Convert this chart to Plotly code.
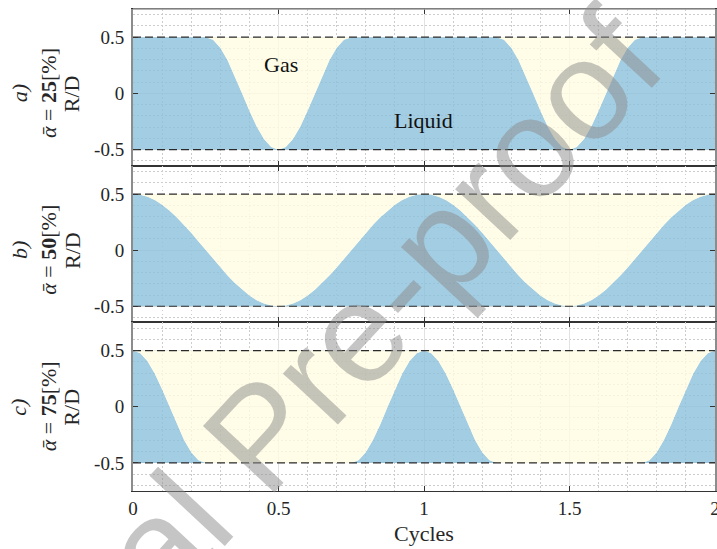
import plotly.graph_objects as go
from plotly.subplots import make_subplots

# Time axis, in cycles
cycles = [
    0.0, 0.025, 0.05, 0.075, 0.1, 0.125, 0.15, 0.175, 0.2, 0.225,
    0.25, 0.275, 0.3, 0.325, 0.35, 0.375, 0.4, 0.425, 0.45, 0.475,
    0.5, 0.525, 0.55, 0.575, 0.6, 0.625, 0.65, 0.675, 0.7, 0.725,
    0.75, 0.775, 0.8, 0.825, 0.85, 0.875, 0.9, 0.925, 0.95, 0.975,
    1.0, 1.025, 1.05, 1.075, 1.1, 1.125, 1.15, 1.175, 1.2, 1.225,
    1.25, 1.275, 1.3, 1.325, 1.35, 1.375, 1.4, 1.425, 1.45, 1.475,
    1.5, 1.525, 1.55, 1.575, 1.6, 1.625, 1.65, 1.675, 1.7, 1.725,
    1.75, 1.775, 1.8, 1.825, 1.85, 1.875, 1.9, 1.925, 1.95, 1.975,
    2.0,
]

# Gas/liquid interface height R/D for each mean void fraction
interface_25 = [
    0.5, 0.5, 0.5, 0.5, 0.5, 0.5, 0.5, 0.5, 0.5, 0.5,
    0.5, 0.476, 0.405, 0.294, 0.155, 0.0, -0.155, -0.294, -0.405, -0.476,
    -0.5, -0.476, -0.405, -0.294, -0.155, 0.0, 0.155, 0.294, 0.405, 0.476,
    0.5, 0.5, 0.5, 0.5, 0.5, 0.5, 0.5, 0.5, 0.5, 0.5,
    0.5, 0.5, 0.5, 0.5, 0.5, 0.5, 0.5, 0.5, 0.5, 0.5,
    0.5, 0.476, 0.405, 0.294, 0.155, 0.0, -0.155, -0.294, -0.405, -0.476,
    -0.5, -0.476, -0.405, -0.294, -0.155, 0.0, 0.155, 0.294, 0.405, 0.476,
    0.5, 0.5, 0.5, 0.5, 0.5, 0.5, 0.5, 0.5, 0.5, 0.5,
    0.5,
]
interface_50 = [
    0.5, 0.494, 0.476, 0.446, 0.405, 0.354, 0.294, 0.227, 0.155, 0.078,
    0.0, -0.078, -0.155, -0.227, -0.294, -0.354, -0.405, -0.446, -0.476, -0.494,
    -0.5, -0.494, -0.476, -0.446, -0.405, -0.354, -0.294, -0.227, -0.155, -0.078,
    0.0, 0.078, 0.155, 0.227, 0.294, 0.354, 0.405, 0.446, 0.476, 0.494,
    0.5, 0.494, 0.476, 0.446, 0.405, 0.354, 0.294, 0.227, 0.155, 0.078,
    0.0, -0.078, -0.155, -0.227, -0.294, -0.354, -0.405, -0.446, -0.476, -0.494,
    -0.5, -0.494, -0.476, -0.446, -0.405, -0.354, -0.294, -0.227, -0.155, -0.078,
    0.0, 0.078, 0.155, 0.227, 0.294, 0.354, 0.405, 0.446, 0.476, 0.494,
    0.5,
]
interface_75 = [
    0.5, 0.476, 0.405, 0.294, 0.155, 0.0, -0.155, -0.294, -0.405, -0.476,
    -0.5, -0.5, -0.5, -0.5, -0.5, -0.5, -0.5, -0.5, -0.5, -0.5,
    -0.5, -0.5, -0.5, -0.5, -0.5, -0.5, -0.5, -0.5, -0.5, -0.5,
    -0.5, -0.476, -0.405, -0.294, -0.155, 0.0, 0.155, 0.294, 0.405, 0.476,
    0.5, 0.476, 0.405, 0.294, 0.155, 0.0, -0.155, -0.294, -0.405, -0.476,
    -0.5, -0.5, -0.5, -0.5, -0.5, -0.5, -0.5, -0.5, -0.5, -0.5,
    -0.5, -0.5, -0.5, -0.5, -0.5, -0.5, -0.5, -0.5, -0.5, -0.5,
    -0.5, -0.476, -0.405, -0.294, -0.155, 0.0, 0.155, 0.294, 0.405, 0.476,
    0.5,
]

void_fractions = ["25", "50", "75"]
panel_letters = ["a)", "b)", "c)"]
interfaces = [interface_25, interface_50, interface_75]

pipe_top = 0.5
pipe_bottom = -0.5
x_ticks = [0, 0.5, 1, 1.5, 2]
x_ticktext = ["0", "0.5", "1", "1.5", "2"]
y_ticks = [-0.5, 0, 0.5]
y_ticktext = ["-0.5", "0", "0.5"]

LIQUID = "rgba(140,192,219,0.8)"
GAS = "rgba(255,252,225,0.8)"
SERIF = "Liberation Serif, DejaVu Serif, serif"
INK = "#262626"

fig = make_subplots(rows=3, cols=1, shared_xaxes=True, vertical_spacing=0)

for row, h in enumerate(interfaces, start=1):
    n = len(cycles)
    fig.add_trace(go.Scatter(x=cycles, y=[pipe_bottom] * n, mode="lines",
                             line=dict(width=0), hoverinfo="skip"), row=row, col=1)
    fig.add_trace(go.Scatter(x=cycles, y=h, mode="lines", line=dict(width=0),
                             fill="tonexty", fillcolor=LIQUID), row=row, col=1)
    fig.add_trace(go.Scatter(x=cycles, y=[pipe_top] * n, mode="lines",
                             line=dict(width=0), fill="tonexty", fillcolor=GAS,
                             hoverinfo="skip"), row=row, col=1)
    for wall in (pipe_top, pipe_bottom):
        fig.add_trace(go.Scatter(x=[cycles[0], cycles[-1]], y=[wall, wall],
                                 mode="lines",
                                 line=dict(color="#2a2a2a", width=1.2, dash="8px,4px"),
                                 hoverinfo="skip"), row=row, col=1)

# Panel extents: the two upper panels are cut off by the panel below them
y_ranges = [[-0.645, 0.75], [-0.645, 0.75], [-0.75, 0.75]]
y_domains = [[0.6743, 1.0], [0.3496, 0.6743], [0.0, 0.3496]]

for i in range(3):
    fig.update_xaxes(
        range=[0, 2], tickvals=x_ticks, ticktext=x_ticktext,
        showline=True, linecolor="#333333", linewidth=1, mirror="ticks",
        ticks="inside", ticklen=5, tickcolor="#333333",
        showgrid=True, gridcolor="#e2e2e2", gridwidth=1, zeroline=False,
        minor=dict(dtick=0.1, tick0=0, showgrid=True, gridcolor="#cdcdcd",
                   griddash="1.5px,2.5px", ticks=""),
        tickfont=dict(family=SERIF, size=19, color=INK),
        showticklabels=(i == 2), ticklabelstandoff=0,
        ticklabeloverflow="allow", automargin=False,
        row=i + 1, col=1,
    )
    fig.update_yaxes(
        range=y_ranges[i], domain=y_domains[i],
        tickvals=y_ticks, ticktext=y_ticktext,
        showline=True, linecolor="#8c8c8c", linewidth=2, mirror="ticks",
        ticks="inside", ticklen=5, tickcolor="#333333",
        showgrid=True, gridcolor="#e2e2e2", gridwidth=1, zeroline=False,
        minor=dict(dtick=0.1, tick0=0, showgrid=True, gridcolor="#cdcdcd",
                   griddash="1.5px,2.5px", ticks=""),
        tickfont=dict(family=SERIF, size=19, color=INK),
        ticklabelstandoff=3, automargin=False,
        row=i + 1, col=1,
    )

annotations = []
yrefs = ["y", "y2", "y3"]
for i in range(3):
    annotations.append(dict(
        text=f"<i>{panel_letters[i]}</i>", xref="paper", yref=yrefs[i],
        x=-0.196, y=0, xanchor="center", yanchor="middle",
        textangle=-90, showarrow=False,
        font=dict(family=SERIF, size=22, color=INK)))
    annotations.append(dict(
        text=f"<i>ᾱ</i> = <b>{void_fractions[i]}</b>[%]", xref="paper", yref=yrefs[i],
        x=-0.145, y=0, xanchor="center", yanchor="middle",
        textangle=-90, showarrow=False,
        font=dict(family=SERIF, size=22, color=INK)))
    annotations.append(dict(
        text="R/D", xref="paper", yref=yrefs[i],
        x=-0.105, y=0, xanchor="center", yanchor="middle",
        textangle=-90, showarrow=False,
        font=dict(family=SERIF, size=22, color=INK)))

annotations += [
    dict(text="Gas", xref="x", yref="y", x=0.51, y=0.26, showarrow=False,
         font=dict(family=SERIF, size=22, color="#111111")),
    dict(text="Liquid", xref="x", yref="y", x=0.997, y=-0.24, showarrow=False,
         font=dict(family=SERIF, size=22, color="#111111")),
    dict(text="Cycles", xref="paper", yref="paper", x=0.5, y=-0.089,
         yanchor="middle", showarrow=False,
         font=dict(family=SERIF, size=22, color=INK)),
    dict(text="Journal Pre-proof", xref="paper", yref="paper", x=0.218, y=0.116,
         xanchor="center", yanchor="middle", textangle=-47, showarrow=False,
         font=dict(family="Liberation Sans, Arial, sans-serif", size=142,
                   color="rgba(140,140,140,0.5)")),
]

fig.update_layout(
    width=717, height=549,
    margin=dict(l=133, r=2, t=9, b=58),
    paper_bgcolor="white", plot_bgcolor="white",
    showlegend=False,
    annotations=annotations,
    shapes=[dict(type="line", xref="paper", yref="paper", x0=0, x1=1, y0=1, y1=1,
                 line=dict(color="#9a9a9a", width=1.5))],
)

fig.write_html("out.html")
